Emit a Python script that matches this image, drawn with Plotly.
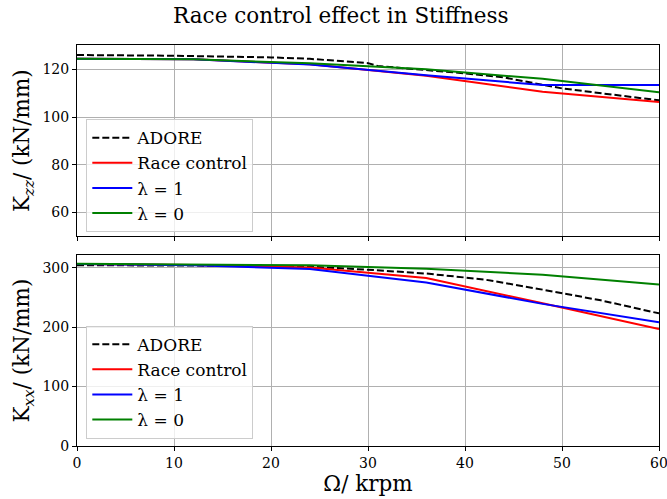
import plotly.graph_objects as go
from plotly.subplots import make_subplots

# ---- data ----
speed = [0, 12, 24, 36, 48, 60]

adore_speed_zz = [0, 10, 20, 24, 30, 31, 40, 44, 50, 60]
adore_zz = [126.0, 125.7, 125.0, 124.4, 122.6, 121.4, 118.3, 116.6, 112.0, 107.0]
race_zz = [124.4, 124.2, 122.1, 117.3, 110.6, 106.3]
lam1_zz = [124.4, 124.2, 122.0, 117.5, 113.4, 113.4]
lam0_zz = [124.4, 124.2, 122.5, 120.0, 116.0, 110.4]

adore_speed_xx = [0, 12, 24, 30, 36, 42, 48, 54, 60]
adore_xx = [304, 303.5, 301.5, 296.5, 290, 280, 263, 245, 223]
race_xx = [306, 304.5, 300, 282.5, 240, 196.6]
lam1_xx = [306, 304, 297.5, 275, 239, 208]
lam0_xx = [306.5, 305.5, 304, 298, 288, 271.7]

names = ["ADORE", "Race control", "λ = 1", "λ = 0"]
colors = ["black", "#ff0000", "#0000ff", "#008000"]
x_ticks = [0, 10, 20, 30, 40, 50, 60]

FONT = "DejaVu Serif"

fig = make_subplots(rows=2, cols=1, shared_xaxes=True, vertical_spacing=0.045)

top = [(adore_speed_zz, adore_zz), (speed, race_zz), (speed, lam1_zz), (speed, lam0_zz)]
bot = [(adore_speed_xx, adore_xx), (speed, race_xx), (speed, lam1_xx), (speed, lam0_xx)]

for i, (xs, ys) in enumerate(top):
    fig.add_trace(go.Scatter(x=xs, y=ys, mode="lines", name=names[i],
                             line=dict(color=colors[i], width=2,
                                       dash="7px,3px" if i == 0 else "solid"),
                             legend="legend"), row=1, col=1)
for i, (xs, ys) in enumerate(bot):
    fig.add_trace(go.Scatter(x=xs, y=ys, mode="lines", name=names[i],
                             line=dict(color=colors[i], width=2,
                                       dash="7px,3px" if i == 0 else "solid"),
                             legend="legend2"), row=2, col=1)

axis_style = dict(showline=True, linecolor="black", linewidth=1, mirror=True,
                  ticks="outside", ticklen=4, tickcolor="black",
                  showgrid=True, gridcolor="#b0b0b0", gridwidth=0.8,
                  zeroline=False, automargin=False, ticklabeloverflow="allow",
                  tickfont=dict(family=FONT, size=14, color="black"))

fig.update_xaxes(**axis_style, range=[0, 60], tickvals=x_ticks)
fig.update_xaxes(title=dict(text="Ω/ krpm", font=dict(family=FONT, size=21.5, color="black"), standoff=3),
                 row=2, col=1)
fig.update_yaxes(**axis_style)
fig.update_yaxes(range=[50, 130.2], tickvals=[60, 80, 100, 120],
                 title=dict(text="K<sub><i>zz</i></sub>/ (kN/mm)", font=dict(family=FONT, size=21.5, color="black"), standoff=6),
                 row=1, col=1)
fig.update_yaxes(range=[0, 321], tickvals=[0, 100, 200, 300],
                 title=dict(text="K<sub><i>xx</i></sub>/ (kN/mm)", font=dict(family=FONT, size=21.5, color="black"), standoff=6),
                 row=2, col=1)

fig.update_layout(
    width=667, height=499,
    margin=dict(l=77, r=8, t=45, b=53, autoexpand=False),
    paper_bgcolor="white", plot_bgcolor="white",
    title=dict(text="Race control effect in Stiffness", x=0.511, xref="container", xanchor="center",
               y=0.968, yanchor="middle",
               font=dict(family=FONT, size=21.5, color="black")),
    font=dict(family=FONT, color="black"),
    legend=dict(x=0.016, y=0.815, xanchor="left", yanchor="top", itemwidth=40,
                bgcolor="rgba(255,255,255,0.8)", bordercolor="#cccccc", borderwidth=1,
                font=dict(family=FONT, size=17, color="black")),
    legend2=dict(x=0.016, y=0.30, xanchor="left", yanchor="top", itemwidth=40,
                 bgcolor="rgba(255,255,255,0.8)", bordercolor="#cccccc", borderwidth=1,
                 font=dict(family=FONT, size=17, color="black")),
)

fig.update_layout(yaxis=dict(domain=[0.523, 1.0]), yaxis2=dict(domain=[0.0, 0.476]))

fig.write_html("out.html", config={"displayModeBar": False},
               post_script="document.body.style.margin='0';")
